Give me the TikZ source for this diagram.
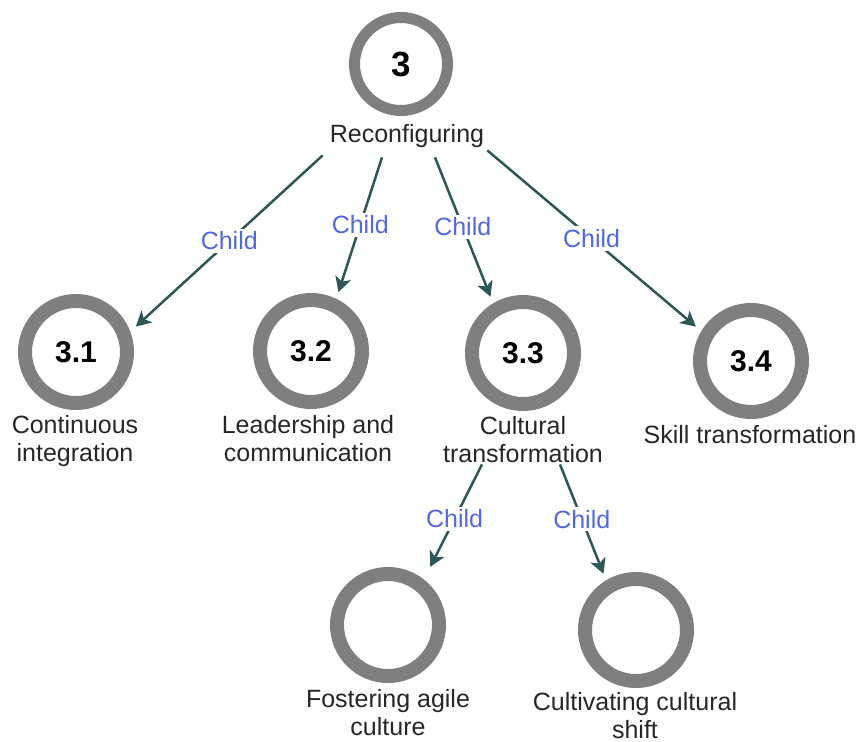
\documentclass[tikz,border=0pt]{standalone}
\usepackage{fontspec}
\setmainfont{Liberation Sans}
\usetikzlibrary{arrows.meta}
\definecolor{ringgray}{RGB}{127,127,127}
\definecolor{edgeteal}{RGB}{46,86,86}
\definecolor{childblue}{RGB}{82,104,222}
\begin{document}
\begin{tikzpicture}[x=1pt,y=-1pt,
  ring/.style={circle,draw=ringgray,line width=14pt,minimum size=102pt,inner sep=0pt,outer sep=14pt,font=\fontsize{30}{32}\selectfont\bfseries},
  topring/.style={circle,draw=ringgray,line width=11pt,minimum size=93pt,inner sep=0pt,font=\fontsize{35}{38}\selectfont\bfseries},
  lbl/.style={align=center,font=\fontsize{25}{28}\selectfont,inner xsep=0pt,inner ysep=0pt,anchor=base,text=black!85},
  conn/.style={draw=edgeteal,line width=2.5pt,-{Stealth[length=15pt,width=16pt,inset=4pt]}},
  childlbl/.style={fill=white,text=childblue,font=\fontsize{25}{28}\selectfont,inner sep=3pt}]
\useasboundingbox (0,0) rectangle (863,742);

% circles
\node[topring] (n3) at (401,64) {3};
\node[ring] (c31) at (76,352) {3.1};
\node[ring] (c32) at (311,351) {3.2};
\node[ring] (c33) at (523,353) {3.3};
\node[ring] (c34) at (751,361) {3.4};
\node[ring] (c331) at (388,625) {};
\node[ring] (c332) at (636,630) {};

% labels (multi-line nodes: base anchor = last line)
\node[lbl] (l3) at (407,142) {Reconfiguring};
\node[lbl] (l31) at (75,461) {Continuous\\integration};
\node[lbl] (l32) at (308,461) {Leadership and\\communication};
\node[lbl] (l33) at (523,462) {Cultural\\transformation};
\node[lbl] (l34) at (750,443) {Skill transformation};
\node[lbl] (l331) at (388,735) {Fostering agile\\culture};
\node[lbl] (l332) at (635,738) {Cultivating cultural\\shift};

% connectors
\draw[conn] ([xshift=-7pt,yshift=-8pt]l3.south west) -- node[childlbl]{Child} (c31.23);
\draw[conn] ([xshift=-25pt,yshift=-10pt]l3.south) -- node[childlbl]{Child} (c32.65);
\draw[conn] ([xshift=28pt,yshift=-10pt]l3.south) -- node[childlbl]{Child} (c33.120);
\draw[conn] ([xshift=3pt,yshift=-3pt]l3.south east) -- node[childlbl]{Child} (c34.148);
\draw[conn,shorten >=7pt] ([xshift=-41pt,yshift=-2pt]l33.south) -- node[childlbl]{Child} (c331.53);
\draw[conn] ([xshift=37pt,yshift=-2pt]l33.south) -- node[childlbl]{Child} (c332.120);
\end{tikzpicture}
\end{document}
